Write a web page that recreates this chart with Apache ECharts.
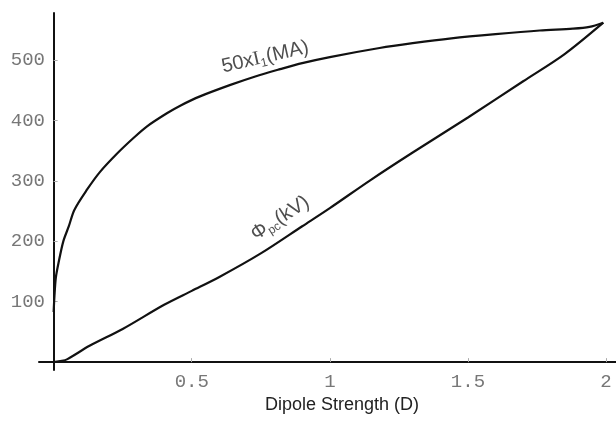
<!DOCTYPE html>
<html><head><meta charset="utf-8">
<script src="https://cdn.jsdelivr.net/npm/echarts@6/dist/echarts.min.js"></script>
<style>html,body{margin:0;padding:0;background:#fff}#c{width:616px;height:435px}</style>
</head><body><div id="c"></div>
<script>
// Curve 1: 50 x I1 (MA) vs dipole strength D
const currentD   = [0,0.003,0.008,0.018,0.035,0.055,0.075,0.12,0.168,0.229,0.289,0.337,0.41,0.46,0.53,0.64,0.73,0.82,0.9,1.0,1.18,1.3,1.44,1.6,1.76,1.88,1.94,1.99];
const currentVal = [83,110,140,165,200,225,252,285,315,345,371,390,412,425,440,459,473,485,495,505,520,528,536,543,549,552,555,562];
// Curve 2: Phi_pc (kV) vs D
const potentialD   = [0,0.03,0.05,0.13,0.25,0.4,0.5,0.6,0.75,0.9,1.0,1.146,1.3,1.5,1.7,1.85,1.99];
const potentialVal = [0,2,5,27,55,95,118,141,180,225,255,301,347,405,465,510,562];
// tick labels
const xTicks = [0.5,1,1.5,2];
const yTicks = [100,200,300,400,500];
// curve annotations: [D, value, text, rotation]
const annotations = [
  [0.766,505,'50x{i|I}{sub|1}(MA)',13],
  [0.82,238,'Φ{sub|pc}(kV)',33]
];
const xTitle = 'Dipole Strength (D)';

const chart = echarts.init(document.getElementById('c'));
const lineStyle = {color:'#111', width:2.2};
chart.setOption({
  animation:false,
  grid:{left:39,right:0,top:13,bottom:65,containLabel:false,outerBoundsMode:'none'},
  xAxis:{type:'value',min:-0.053,max:2.036,
    axisLine:{onZero:true,lineStyle:{color:'#111',width:2}},
    axisTick:{show:true,inside:true,length:4,customValues:xTicks,lineStyle:{color:'#aaa'}},
    axisLabel:{customValues:xTicks,color:'#777',fontFamily:'Liberation Mono',fontSize:19,margin:2},
    splitLine:{show:false}},
  yAxis:{type:'value',min:-13,max:578,
    axisLine:{onZero:true,lineStyle:{color:'#111',width:2}},
    axisTick:{show:true,inside:true,length:4,customValues:yTicks,lineStyle:{color:'#aaa'}},
    axisLabel:{customValues:yTicks,color:'#777',fontFamily:'Liberation Mono',fontSize:19,margin:-6},
    splitLine:{show:false}},
  graphic:[{type:'text',x:342,y:405,style:{text:xTitle,fontFamily:'Liberation Sans',fontSize:18,fill:'#222',align:'center',verticalAlign:'middle'}}],
  series:[
    {type:'line',data:currentD.map((d,i)=>[d,currentVal[i]]),showSymbol:false,smooth:0.3,lineStyle:lineStyle},
    {type:'line',data:potentialD.map((d,i)=>[d,potentialVal[i]]),showSymbol:false,smooth:0.3,lineStyle:lineStyle},
    {type:'scatter',symbolSize:0,data:annotations.map(a=>({value:[a[0],a[1]],label:{show:true,formatter:a[2],rotate:a[3]}})),
      label:{position:'inside',align:'center',verticalAlign:'middle',fontFamily:'Liberation Sans',fontSize:20,color:'#222',
        rich:{i:{fontFamily:'Liberation Serif',fontSize:20,color:'#222'},sub:{fontSize:12,color:'#222',padding:[11,0,0,0]}}}}
  ]
});
</script></body></html>
